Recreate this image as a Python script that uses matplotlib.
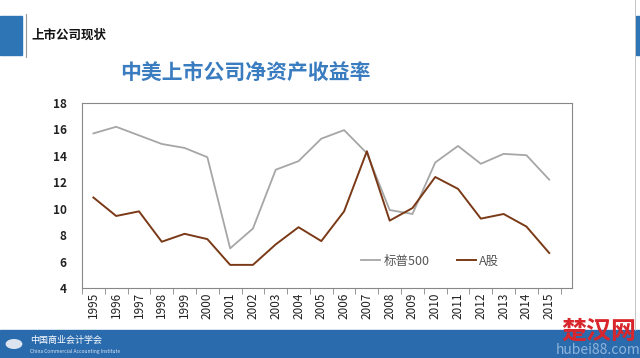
import numpy as np
import matplotlib.pyplot as plt
from matplotlib.patches import Rectangle, Circle

plt.rcParams['font.family'] = ['Noto Sans CJK SC', 'DejaVu Sans']

# Data (ROE, %)
years = [str(y) for y in range(1995, 2016)]
sp500 = [15.7, 16.2, 15.55, 14.9, 14.6, 13.9, 7.0, 8.5, 12.95, 13.6, 15.3,
         15.95, 14.2, 9.9, 9.6, 13.5, 14.75, 13.4, 14.15, 14.05, 12.2]
ashare = [10.85, 9.45, 9.8, 7.5, 8.1, 7.7, 5.75, 5.75, 7.3, 8.6, 7.55,
          9.8, 14.35, 9.1, 10.05, 12.4, 11.5, 9.25, 9.6, 8.65, 6.65]
yticks = [4, 6, 8, 10, 12, 14, 16, 18]

fig = plt.figure(figsize=(6.4, 3.58), dpi=100)
fig.patch.set_facecolor('white')

# slide decorations
fig.patches.append(Rectangle((0, 1 - 55/358), 22/640, 39/358, transform=fig.transFigure,
                             color='#2E75B6', zorder=0))
fig.lines.append(plt.Line2D([26/640, 26/640], [1 - 57/358, 1 - 14/358], transform=fig.transFigure,
                            color='#999999', lw=0.8))
fig.patches.append(Rectangle((636/640, 1 - 55/358), 4/640, 39/358, transform=fig.transFigure,
                             color='#2E75B6', zorder=0))
fig.lines.append(plt.Line2D([635/640, 635/640], [28/358, 1], transform=fig.transFigure,
                            color='#BBBBBB', lw=0.6))
fig.text(31/640, 1 - 35/358, '上市公司现状', fontsize=9, fontweight='bold', color='#111111',
         va='center', ha='left')
fig.text(245/640, 1 - 72/358, '中美上市公司净资产收益率', fontsize=15, fontweight='bold',
         color='#3A7CC0', va='center', ha='center')

# bottom band
fig.patches.append(Rectangle((0, 0), 1, 28/358, transform=fig.transFigure, color='#2A6BAE', zorder=0))
fig.patches.append(Circle((14/640, 14/358), 0.012, transform=fig.transFigure, color='#DDE6F0', zorder=1))
fig.text(30/640, 18/358, '中国商业会计学会', fontsize=6.5, color='white', va='center', ha='left')
fig.text(30/640, 7/358, 'China Commercial Accounting Institute', fontsize=3.5, color='#DDE6F0',
         va='center', ha='left')
fig.text(0.935, 26/358, '楚汉网', fontsize=18, fontweight='bold', color='#D8262C', va='center', ha='center')
fig.text(0.935, 8/358, 'hubei88.com', fontsize=10, color='#8FB4DA', va='center', ha='center')

ax = fig.add_axes([82/640, 70/358, 490/640, 185/358])
x = np.arange(len(years))
ax.plot(x, sp500, color='#A6A6A6', lw=1.3, label='标普500')
ax.plot(x, ashare, color='#7B3A17', lw=1.4, label='A股')

ax.set_xlim(-0.5, 21.0)
ax.set_ylim(4, 18)
ax.set_yticks(yticks)
ax.set_yticklabels([str(v) for v in yticks], fontsize=8.5, color='#222222', fontweight='bold')
ax.set_xticks(x)
ax.set_xticklabels(years, rotation=90, fontsize=8.5, color='#222222')
ax.set_xticks(np.arange(-0.5, 20.6, 1), minor=True)
ax.tick_params(axis='x', which='major', length=0, pad=3)
ax.tick_params(axis='x', which='minor', length=4, color='#888888', direction='out')
ax.tick_params(axis='y', length=0, pad=11)
for s in ax.spines.values():
    s.set_color('#888888')
    s.set_linewidth(0.8)

leg = ax.legend(loc='lower right', bbox_to_anchor=(0.875, 0.05), ncol=2, frameon=False,
                fontsize=9, handlelength=1.5, columnspacing=2.2, handletextpad=0.3)
for t in leg.get_texts():
    t.set_color('#555555')

fig.savefig('out.png', dpi=100, facecolor='white')
